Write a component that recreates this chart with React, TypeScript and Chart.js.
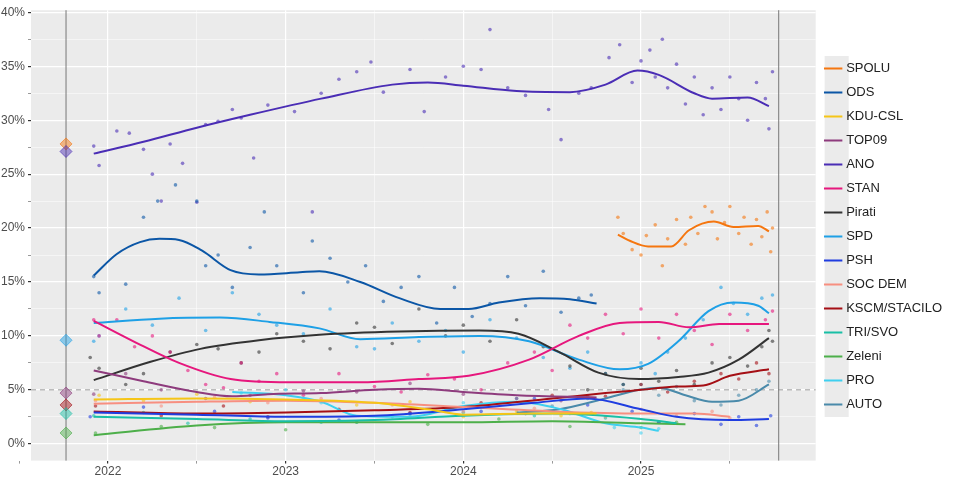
import React, { useEffect, useRef } from "react";
import Chart from "chart.js/auto";

type P = [number, number];

const partyNames = ["SPOLU", "ODS", "KDU-CSL", "TOP09", "ANO", "STAN", "Pirati", "SPD", "PSH", "SOC DEM", "KSCM/STACILO", "TRI/SVO", "Zeleni", "PRO", "AUTO"];
const partyColors = ["#f5760f", "#0b56a6", "#f5c518", "#8e3b7d", "#4a2db5", "#e6177d", "#333333", "#1ea0e6", "#1f3de0", "#f78f80", "#a50f15", "#19bfa6", "#4daf4a", "#3fd0f0", "#4a8aaa"];

// smoothed trend lines [year, %]
const spoluLine: P[] = [[2024.87, 19.4], [2024.94, 18.8], [2025.04, 18.3], [2025.17, 18.3], [2025.27, 19.8], [2025.41, 20.6], [2025.52, 20.1], [2025.66, 20.2], [2025.72, 19.7]];
const odsLine: P[] = [[2021.92, 15.6], [2022.05, 17.6], [2022.18, 18.7], [2022.29, 19.0], [2022.4, 18.9], [2022.53, 17.9], [2022.69, 16.1], [2022.85, 15.7], [2023.08, 15.9], [2023.19, 16.0], [2023.42, 15.0], [2023.64, 13.5], [2023.87, 12.5], [2024.03, 12.5], [2024.2, 13.1], [2024.43, 13.5], [2024.6, 13.4], [2024.75, 13.0]];
const kduLine: P[] = [[2021.92, 4.1], [2022.5, 4.2], [2023.0, 4.1], [2023.5, 3.8], [2023.8, 3.2], [2024.0, 2.7], [2024.4, 2.8], [2024.75, 2.8]];
const top09Line: P[] = [[2021.92, 6.8], [2022.2, 5.8], [2022.5, 4.8], [2022.7, 4.4], [2022.9, 4.6], [2023.2, 4.7], [2023.5, 5.0], [2023.75, 5.1], [2024.0, 4.8], [2024.3, 4.5], [2024.75, 4.3]];
const anoLine: P[] = [[2021.92, 26.9], [2022.2, 28.0], [2022.5, 29.3], [2022.8, 30.5], [2023.2, 32.0], [2023.6, 33.3], [2023.8, 33.5], [2024.0, 33.2], [2024.3, 32.7], [2024.6, 32.6], [2024.8, 33.3], [2024.98, 34.6], [2025.1, 34.2], [2025.3, 32.5], [2025.4, 32.0], [2025.6, 32.1], [2025.72, 31.3]];
const stanLine: P[] = [[2021.92, 11.4], [2022.18, 9.2], [2022.4, 7.5], [2022.69, 6.0], [2023.02, 5.7], [2023.42, 5.7], [2023.75, 6.0], [2024.03, 6.3], [2024.37, 7.8], [2024.65, 10.0], [2024.88, 11.2], [2025.1, 11.3], [2025.27, 10.8], [2025.44, 11.1], [2025.72, 11.1]];
const piratiLine: P[] = [[2021.92, 5.9], [2022.24, 7.6], [2022.52, 8.8], [2022.85, 9.6], [2023.19, 10.1], [2023.64, 10.4], [2024.09, 10.5], [2024.31, 10.2], [2024.54, 8.5], [2024.76, 6.6], [2024.99, 6.0], [2025.21, 6.2], [2025.38, 6.6], [2025.55, 7.8], [2025.72, 9.8]];
const spdLine: P[] = [[2021.92, 11.2], [2022.29, 11.6], [2022.63, 11.7], [2022.91, 11.3], [2023.19, 10.7], [2023.42, 9.7], [2023.75, 9.9], [2024.09, 10.0], [2024.37, 9.5], [2024.65, 7.8], [2024.88, 6.9], [2025.04, 7.4], [2025.21, 9.5], [2025.38, 12.3], [2025.52, 13.1], [2025.66, 12.8], [2025.72, 12.1]];
const pshLine: P[] = [[2021.92, 2.9], [2022.5, 2.7], [2023.0, 2.5], [2023.5, 2.6], [2024.0, 3.2], [2024.4, 3.8], [2024.7, 4.2], [2025.0, 3.2], [2025.2, 2.5], [2025.5, 2.2], [2025.72, 2.3]];
const socdemLine: P[] = [[2021.92, 3.7], [2022.5, 3.9], [2023.0, 4.0], [2023.5, 3.8], [2024.0, 3.4], [2024.5, 3.0], [2025.0, 2.8], [2025.3, 2.8], [2025.5, 2.5]];
const kscmLine: P[] = [[2021.92, 3.0], [2022.5, 2.8], [2023.0, 2.9], [2023.5, 3.1], [2024.0, 3.4], [2024.5, 4.2], [2024.8, 4.7], [2025.0, 5.0], [2025.2, 5.3], [2025.35, 5.4], [2025.5, 6.3], [2025.72, 6.9]];
const triLine: P[] = [[2021.92, 2.5], [2022.5, 2.3], [2023.0, 2.1], [2023.5, 2.2], [2024.0, 2.6], [2024.5, 2.8], [2025.0, 2.3], [2025.2, 1.9]];
const zeleniLine: P[] = [[2021.92, 0.8], [2022.5, 1.7], [2023.0, 2.0], [2023.5, 2.0], [2024.0, 2.0], [2024.5, 2.1], [2025.0, 1.9], [2025.25, 1.8]];
const proLine: P[] = [[2022.7, 4.8], [2023.0, 4.5], [2023.2, 3.9], [2023.4, 2.6], [2023.7, 2.5], [2024.0, 3.5], [2024.3, 3.9], [2024.55, 3.2], [2024.8, 1.9], [2025.0, 1.5], [2025.1, 1.2]];
const autoLine: P[] = [[2024.3, 2.9], [2024.54, 3.2], [2024.8, 4.2], [2024.99, 5.0], [2025.1, 5.2], [2025.25, 4.5], [2025.4, 3.9], [2025.55, 4.0], [2025.72, 5.5]];

// individual polls
const spoluPts: P[] = [[2024.87, 21.0], [2024.9, 19.5], [2024.95, 18.0], [2025.0, 17.5], [2025.03, 19.3], [2025.08, 20.3], [2025.12, 16.5], [2025.15, 19.0], [2025.2, 20.8], [2025.25, 18.5], [2025.28, 21.0], [2025.32, 19.5], [2025.36, 22.0], [2025.4, 21.5], [2025.43, 19.0], [2025.47, 20.5], [2025.5, 22.0], [2025.55, 19.5], [2025.58, 21.0], [2025.62, 18.5], [2025.65, 20.8], [2025.68, 19.2], [2025.71, 21.5], [2025.73, 17.8], [2025.74, 20.0]];
const odsPts: P[] = [[2021.92, 15.5], [2021.95, 14.0], [2022.1, 14.8], [2022.2, 21.0], [2022.28, 22.5], [2022.38, 24.0], [2022.5, 22.5], [2022.55, 16.5], [2022.62, 17.5], [2022.7, 14.5], [2022.8, 18.2], [2022.88, 21.5], [2022.95, 16.5], [2023.1, 14.0], [2023.15, 18.8], [2023.25, 17.2], [2023.35, 15.0], [2023.45, 16.5], [2023.55, 13.2], [2023.65, 14.5], [2023.75, 15.5], [2023.85, 11.2], [2023.95, 14.5], [2024.05, 11.8], [2024.15, 13.0], [2024.25, 15.5], [2024.35, 12.8], [2024.45, 16.0], [2024.55, 12.2], [2024.65, 13.5], [2024.72, 13.8]];
const kduPts: P[] = [[2021.95, 4.5], [2022.2, 4.0], [2022.5, 4.6], [2022.8, 3.9], [2023.1, 4.2], [2023.4, 3.6], [2023.7, 3.9], [2024.0, 2.5], [2024.3, 3.0], [2024.55, 2.6], [2024.72, 2.9]];
const top09Pts: P[] = [[2021.92, 4.6], [2022.1, 6.5], [2022.3, 5.0], [2022.55, 4.2], [2022.8, 4.5], [2023.1, 4.9], [2023.4, 4.8], [2023.7, 5.6], [2024.0, 4.6], [2024.3, 4.2], [2024.55, 4.0], [2024.7, 4.4]];
const anoPts: P[] = [[2021.92, 27.6], [2021.95, 25.8], [2022.05, 29.0], [2022.12, 28.8], [2022.2, 27.3], [2022.25, 25.0], [2022.3, 22.5], [2022.35, 27.8], [2022.42, 26.0], [2022.5, 22.4], [2022.55, 29.6], [2022.62, 29.9], [2022.7, 31.0], [2022.75, 30.2], [2022.82, 26.5], [2022.9, 31.4], [2023.05, 30.8], [2023.15, 21.5], [2023.2, 32.5], [2023.3, 33.8], [2023.4, 34.5], [2023.48, 35.4], [2023.55, 32.6], [2023.7, 34.7], [2023.78, 30.8], [2023.9, 34.0], [2024.0, 35.0], [2024.1, 34.7], [2024.15, 38.4], [2024.25, 33.0], [2024.35, 32.3], [2024.48, 31.0], [2024.55, 28.2], [2024.65, 32.5], [2024.72, 33.0], [2024.82, 35.8], [2024.88, 37.0], [2024.95, 33.5], [2025.0, 35.5], [2025.05, 36.5], [2025.08, 34.0], [2025.12, 37.5], [2025.15, 33.0], [2025.2, 35.2], [2025.25, 31.5], [2025.3, 34.0], [2025.35, 30.5], [2025.4, 33.0], [2025.45, 31.0], [2025.5, 34.0], [2025.55, 32.0], [2025.6, 30.0], [2025.65, 33.5], [2025.7, 32.0], [2025.72, 29.2], [2025.74, 34.5]];
const stanPts: P[] = [[2021.92, 11.5], [2021.95, 10.0], [2022.05, 11.5], [2022.15, 9.0], [2022.25, 10.0], [2022.35, 8.5], [2022.45, 6.8], [2022.55, 5.5], [2022.65, 5.2], [2022.75, 7.5], [2022.85, 5.8], [2022.95, 6.5], [2023.1, 4.5], [2023.3, 6.5], [2023.5, 5.3], [2023.65, 4.8], [2023.8, 6.4], [2023.95, 6.0], [2024.1, 5.0], [2024.25, 7.5], [2024.4, 8.5], [2024.5, 6.8], [2024.6, 11.0], [2024.7, 9.8], [2024.8, 12.0], [2024.9, 10.2], [2025.0, 12.5], [2025.1, 9.8], [2025.2, 12.0], [2025.3, 10.5], [2025.4, 9.2], [2025.5, 12.0], [2025.6, 10.5], [2025.7, 11.5], [2025.74, 12.3]];
const piratiPts: P[] = [[2021.9, 8.0], [2021.95, 7.0], [2022.1, 5.5], [2022.2, 6.5], [2022.35, 8.5], [2022.5, 9.2], [2022.62, 8.8], [2022.75, 7.5], [2022.85, 8.5], [2022.95, 10.2], [2023.1, 9.5], [2023.25, 8.8], [2023.4, 11.2], [2023.5, 10.8], [2023.6, 9.3], [2023.75, 12.5], [2023.9, 10.0], [2024.0, 11.0], [2024.15, 9.5], [2024.3, 11.5], [2024.45, 9.0], [2024.6, 7.2], [2024.7, 5.0], [2024.8, 6.5], [2024.9, 5.5], [2025.0, 7.0], [2025.1, 5.8], [2025.2, 6.8], [2025.3, 5.5], [2025.4, 7.5], [2025.5, 8.0], [2025.6, 7.2], [2025.68, 9.0], [2025.72, 10.5], [2025.74, 9.5]];
const spdPts: P[] = [[2021.92, 9.5], [2021.95, 10.0], [2022.1, 12.5], [2022.25, 11.0], [2022.4, 13.5], [2022.55, 10.5], [2022.7, 14.0], [2022.85, 12.0], [2022.95, 11.0], [2023.1, 10.2], [2023.25, 12.5], [2023.4, 9.0], [2023.5, 8.8], [2023.6, 11.2], [2023.75, 9.5], [2023.9, 10.5], [2024.0, 8.5], [2024.15, 11.5], [2024.3, 9.8], [2024.45, 8.0], [2024.6, 7.0], [2024.7, 8.5], [2024.8, 6.5], [2024.9, 5.5], [2025.0, 7.5], [2025.08, 6.5], [2025.15, 8.5], [2025.25, 9.8], [2025.35, 11.5], [2025.45, 14.5], [2025.52, 13.0], [2025.6, 12.0], [2025.68, 13.5], [2025.74, 13.8]];
const pshPts: P[] = [[2021.9, 2.5], [2022.2, 3.4], [2022.6, 3.0], [2022.9, 2.4], [2023.3, 2.2], [2023.7, 2.8], [2024.1, 3.0], [2024.4, 4.2], [2024.7, 3.6], [2024.95, 3.0], [2025.1, 2.0], [2025.3, 2.8], [2025.45, 1.8], [2025.55, 2.5], [2025.65, 1.7], [2025.73, 2.6]];
const socdemPts: P[] = [[2021.93, 4.0], [2022.3, 3.5], [2022.6, 4.3], [2022.9, 3.8], [2023.2, 4.2], [2023.6, 3.6], [2024.0, 3.0], [2024.4, 3.3], [2024.8, 2.5], [2025.0, 3.2], [2025.2, 2.6], [2025.4, 3.0], [2025.5, 2.4]];
const kscmPts: P[] = [[2021.93, 3.5], [2022.3, 2.6], [2022.65, 3.5], [2022.9, 2.5], [2023.3, 3.2], [2023.7, 2.9], [2024.1, 3.8], [2024.5, 4.5], [2024.8, 4.4], [2025.0, 5.5], [2025.15, 4.8], [2025.3, 5.8], [2025.45, 6.5], [2025.55, 6.0], [2025.65, 7.5], [2025.72, 6.5]];
const triPts: P[] = [[2021.92, 2.6], [2022.2, 2.9], [2022.45, 1.9], [2022.8, 2.3], [2023.2, 2.0], [2023.6, 2.5], [2024.0, 2.9], [2024.4, 2.6], [2024.8, 2.4], [2025.1, 2.0]];
const zeleniPts: P[] = [[2021.93, 1.0], [2022.3, 1.6], [2022.6, 1.5], [2023.0, 1.3], [2023.4, 2.0], [2023.8, 1.8], [2024.2, 2.3], [2024.6, 1.6], [2025.0, 1.5], [2025.2, 2.0]];
const proPts: P[] = [[2022.75, 4.7], [2023.0, 5.0], [2023.2, 3.8], [2023.4, 2.0], [2023.7, 2.7], [2024.0, 3.8], [2024.3, 4.2], [2024.6, 2.8], [2024.85, 1.5], [2025.0, 1.0], [2025.1, 1.4]];
const autoPts: P[] = [[2024.35, 2.8], [2024.5, 3.5], [2024.7, 4.2], [2024.9, 5.0], [2025.0, 5.5], [2025.1, 4.5], [2025.2, 5.3], [2025.3, 4.0], [2025.45, 3.6], [2025.55, 4.5], [2025.65, 5.0], [2025.72, 5.8]];

const lines = [spoluLine, odsLine, kduLine, top09Line, anoLine, stanLine, piratiLine, spdLine, pshLine, socdemLine, kscmLine, triLine, zeleniLine, proLine, autoLine];
const polls = [spoluPts, odsPts, kduPts, top09Pts, anoPts, stanPts, piratiPts, spdPts, pshPts, socdemPts, kscmPts, triPts, zeleniPts, proPts, autoPts];

// 2021 election results (diamonds)
const electionYear = 2021.764;
const nextElection = 2025.775;
const electionResults: P[] = [[electionYear, 27.8], [electionYear, 27.1], [electionYear, 9.6], [electionYear, 4.7], [electionYear, 3.6], [electionYear, 2.8], [electionYear, 1.0]];
const electionColors = ["#f5760f", "#4a2db5", "#1ea0e6", "#8e3b7d", "#a50f15", "#19bfa6", "#4daf4a"];

const yTicks = [0, 2.5, 5, 7.5, 10, 12.5, 15, 17.5, 20, 22.5, 25, 27.5, 30, 32.5, 35, 37.5, 40];
const xTicks = [2021.5, 2022, 2022.5, 2023, 2023.5, 2024, 2024.5, 2025, 2025.5];

const toXY = (p: P[]) => p.map(([x, y]) => ({ x, y }));

const App: React.FC = () => {
  const ref = useRef<HTMLCanvasElement>(null);

  useEffect(() => {
    document.body.style.margin = "0";
    if (!ref.current) return;
    const ctx = ref.current.getContext("2d");
    if (!ctx) return;

    const datasets: any[] = [];
    partyNames.forEach((name, i) => {
      datasets.push({
        type: "scatter",
        label: "_" + name,
        data: toXY(polls[i]),
        backgroundColor: partyColors[i] + "99",
        borderWidth: 0,
        pointRadius: 1.8,
        order: 2,
      });
    });
    partyNames.forEach((name, i) => {
      datasets.push({
        type: "line",
        label: name,
        data: toXY(lines[i]),
        borderColor: partyColors[i],
        backgroundColor: partyColors[i],
        borderWidth: 2,
        pointRadius: 0,
        cubicInterpolationMode: "monotone",
        fill: false,
        order: 1,
      });
    });
    datasets.push({
      type: "scatter",
      label: "_election",
      data: toXY(electionResults),
      pointStyle: "rectRot",
      pointRadius: 6,
      backgroundColor: electionColors.map((c) => c + "77"),
      borderColor: electionColors.map((c) => c + "99"),
      borderWidth: 1,
      order: 0,
    });

    const decor = {
      id: "decor",
      beforeDraw(chart: any) {
        const { ctx, chartArea: a } = chart;
        ctx.save();
        ctx.fillStyle = "#ebebeb";
        ctx.fillRect(a.left, a.top, a.right - a.left, a.bottom - a.top);
        const lg = chart.legend;
        if (lg && lg.legendHitBoxes && lg.legendHitBoxes.length) {
          const hb = lg.legendHitBoxes;
          const top = hb[0].top - 6;
          const bottom = hb[hb.length - 1].top + hb[hb.length - 1].height + 6;
          ctx.fillStyle = "#ebebeb";
          ctx.fillRect(hb[0].left - 2, top, 24, bottom - top);
        }
        ctx.restore();
      },
      beforeDatasetsDraw(chart: any) {
        const { ctx, chartArea: a, scales } = chart;
        ctx.save();
        ctx.strokeStyle = "#999";
        ctx.lineWidth = 1;
        ctx.setLineDash([5, 4]);
        const y5 = scales.y.getPixelForValue(5);
        ctx.beginPath();
        ctx.moveTo(a.left, y5);
        ctx.lineTo(a.right, y5);
        ctx.stroke();
        ctx.setLineDash([]);
        ctx.strokeStyle = "#777";
        [electionYear, nextElection].forEach((v) => {
          const x = scales.x.getPixelForValue(v);
          ctx.beginPath();
          ctx.moveTo(x, a.top);
          ctx.lineTo(x, a.bottom);
          ctx.stroke();
        });
        ctx.restore();
      },
    };

    const chart = new Chart(ctx, {
      type: "scatter",
      data: { datasets },
      options: {
        animation: false,
        responsive: false,
        layout: { padding: { left: -2, right: 8, top: -7, bottom: 0 } },
        plugins: {
          tooltip: { enabled: false },
          legend: {
            position: "right",
            labels: {
              filter: (item: any) => !item.text.startsWith("_"),
              usePointStyle: true,
              pointStyle: "line",
              boxWidth: 20,
              padding: 11,
              color: "#222",
              font: { family: "Liberation Sans, Arial, sans-serif", size: 13 },
            },
          },
        },
        scales: {
          x: {
            type: "linear",
            min: 2021.567,
            max: 2025.983,
            afterBuildTicks: (s: any) => {
              s.ticks = xTicks.map((value) => ({ value }));
            },
            grid: {
              color: "#ffffff",
              lineWidth: (c: any) => (c.tick && Number.isInteger(c.tick.value) ? 1.2 : 0.5),
              tickLength: 3,
              tickColor: "#333",
            },
            border: { display: false },
            ticks: {
              color: "#4d4d4d",
              padding: 1,
              font: { family: "Liberation Sans, Arial, sans-serif", size: 12 },
              callback: (v: any) => (Number.isInteger(v) ? String(v) : ""),
              autoSkip: false,
              maxRotation: 0,
            },
          },
          y: {
            min: -1.56,
            max: 40.2,
            afterBuildTicks: (s: any) => {
              s.ticks = yTicks.map((value) => ({ value }));
            },
            grid: {
              color: "#ffffff",
              lineWidth: (c: any) => (c.tick && c.tick.value % 5 === 0 ? 1.2 : 0.5),
              tickLength: 3,
              tickColor: "#333",
            },
            border: { display: false },
            ticks: {
              color: "#4d4d4d",
              font: { family: "Liberation Sans, Arial, sans-serif", size: 12 },
              callback: (v: any) => (v % 5 === 0 ? v + "%" : ""),
              autoSkip: false,
            },
          },
        },
      },
      plugins: [decor],
    });

    return () => chart.destroy();
  }, []);

  return (
    <div style={{ width: 960, height: 480, background: "#fff" }}>
      <canvas ref={ref} width={960} height={480} />
    </div>
  );
};

export default App;
